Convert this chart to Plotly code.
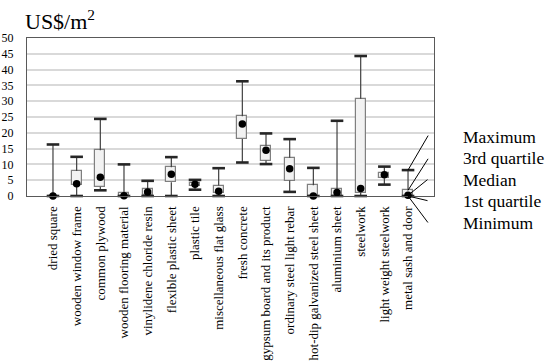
import plotly.graph_objects as go

categories = ["dried square", "wooden window frame", "common plywood", "wooden flooring material",
              "vinylidene chloride resin", "flexible plastic sheet", "plastic tile",
              "miscellaneous flat glass", "fresh concrete", "gypsum board and its product",
              "ordinary steel light rebar", "hot-dip galvanized steel sheet", "aluminium sheet",
              "steelwork", "light weight steelwork", "metal sash and door"]
minimum = [0, 0, 1.8, 0, 0, 0, 2.0, 0, 10.6, 10.1, 1.3, 0, 0, 0, 3.6, 0]
q1 = [0, 3.6, 2.9, 0, 0.2, 4.35, 3.3, 1.0, 18.0, 11.2, 4.9, 0, 0.1, 1.1, 5.6, 0]
median = [0, 3.9, 5.9, 0.1, 1.3, 6.9, 3.7, 1.5, 22.8, 14.5, 8.6, 0, 1.1, 2.4, 6.7, 0.2]
q3 = [0, 7.9, 14.5, 0.8, 2.2, 9.1, 4.0, 3.3, 25.2, 15.9, 12.1, 3.4, 2.2, 30.8, 7.3, 1.8]
maximum = [16.3, 12.4, 24.4, 10.0, 4.8, 12.3, 5.1, 8.8, 36.3, 19.8, 18.0, 8.9, 23.8, 44.3, 9.3, 8.2]
legend_labels = ["Maximum", "3rd quartile", "Median", "1st quartile", "Minimum"]

SERIF = "Liberation Serif, Times New Roman, serif"
DARK = "#262626"

fig = go.Figure()

# whisker stems (outside the boxes)
sx, sy = [], []
for c, lo, a, b, hi in zip(categories, minimum, q1, q3, maximum):
    sx += [c, c, None, c, c, None]
    sy += [lo, a, None, b, hi, None]
fig.add_trace(go.Scatter(x=sx, y=sy, mode="lines", line=dict(color="#404040", width=1.2),
                         hoverinfo="skip", showlegend=False))

# boxes
fig.add_trace(go.Bar(x=categories, y=[b - a for a, b in zip(q1, q3)], base=q1, width=0.43,
                     marker=dict(color="#f2f2f2", line=dict(color="#7f7f7f", width=1.2)),
                     showlegend=False))

# caps
fig.add_trace(go.Scatter(x=categories + categories, y=maximum + minimum, mode="markers",
                         marker=dict(symbol="line-ew", size=9, line=dict(color=DARK, width=2.6)),
                         showlegend=False, cliponaxis=False))
# median dots
fig.add_trace(go.Scatter(x=categories, y=median, mode="markers",
                         marker=dict(symbol="circle", size=7.5, color="black"),
                         showlegend=False, cliponaxis=False))

# explanatory key lines anchored on the last box (pixel offsets, not clipped)
last = len(categories) - 1
key_targets = [maximum[last], q3[last], median[last], q1[last], minimum[last]]
key_offsets = [(21, -36), (21, -33), (21, -17), (21, 5), (21, 28)]
for val, (ax, ay) in zip(key_targets, key_offsets):
    fig.add_annotation(x=categories[last], y=val, xref="x", yref="y", text="",
                       showarrow=True, arrowhead=0, arrowwidth=1, arrowcolor="black",
                       ax=ax, ay=ay, standoff=0, startstandoff=0)

key_y = [0.376, 0.2395, 0.103, -0.0337, -0.170]
for lab, yy in zip(legend_labels, key_y):
    fig.add_annotation(x=1.066, y=yy, xref="paper", yref="paper", text=lab, showarrow=False,
                       xanchor="left", yanchor="middle",
                       font=dict(family=SERIF, size=17.5, color="black"))

fig.add_annotation(x=-0.01, y=1.215, xref="paper", yref="paper", text="US$/m<sup>2</sup>",
                   showarrow=False, xanchor="left", yanchor="top",
                   font=dict(family=SERIF, size=22, color="black"))

fig.update_layout(
    width=550, height=364,
    margin=dict(l=27, r=116, t=38, b=168),
    plot_bgcolor="white", paper_bgcolor="white",
    bargap=0, showlegend=False,
    font=dict(family=SERIF, color="black"),
)
fig.update_yaxes(range=[0, 50], dtick=5, showgrid=True, gridcolor="#d9d9d9", gridwidth=1.5,
                 zeroline=False, showline=True, linecolor="#595959", linewidth=1.2, mirror=True,
                 ticks="", ticklabelstandoff=10, automargin=False,
                 tickfont=dict(family=SERIF, size=12, color="black"))
fig.update_xaxes(type="category", showgrid=False, showline=True, linecolor="#595959", linewidth=1.2,
                 mirror=True, ticks="", tickangle=-90, ticklabelstandoff=4, automargin=False,
                 tickfont=dict(family=SERIF, size=13, color="black"))

# remove the browser's default 8px page margin so the figure sits at the window's corner
fig.write_html("out.html", config={"displayModeBar": False},
               post_script="document.body.style.margin='0';")
